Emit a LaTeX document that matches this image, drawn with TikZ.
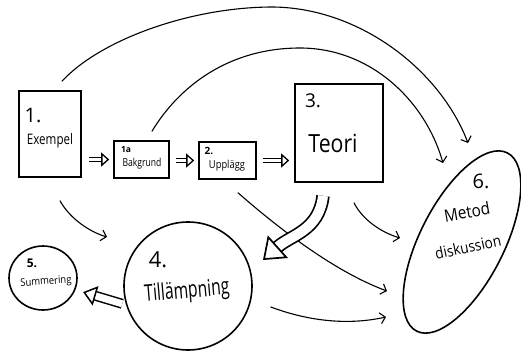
\documentclass[tikz,border=0pt]{standalone}
\usepackage{fontspec}
\setmainfont{Open Sans}
\usetikzlibrary{arrows.meta,shapes.geometric,calc}
\begin{document}
\begin{tikzpicture}[x=1pt,y=-1pt,
  box/.style={draw, line width=1.6pt, inner sep=0pt},
  lbl/.style={inner sep=0pt},
  thinarrow/.style={line width=1.1pt, line cap=round, -{Straight Barb[length=5pt,width=11pt,line width=1.1pt]}},
  dbl/.style={double, double distance=3pt, line width=1.3pt, -{Triangle[open,length=8pt,width=14pt,line width=1.3pt]}},
  fat/.style={double, double distance=7pt, line width=1.5pt, -{Triangle[open,length=13pt,width=20pt,line width=1.5pt]}},
  huge/.style={double, double distance=10pt, line width=1.7pt, -{Triangle[open,length=20pt,width=30pt,line width=1.7pt]}}
]
\useasboundingbox (0,0) rectangle (521,353);

% nodes
\node[box, minimum width=62pt, minimum height=86pt] (n1) at (50,134) {};
\node[box, minimum width=55pt, minimum height=37pt] (n1a) at (141.5,159.5) {};
\node[box, minimum width=57pt, minimum height=37pt] (n2) at (227.5,160.5) {};
\node[box, minimum width=88pt, minimum height=98pt] (n3) at (339,133) {};
\node[draw, circle, line width=1.6pt, minimum size=128pt, inner sep=0pt] (n4) at (188,286) {};
\node[draw, ellipse, line width=1.6pt, minimum width=68pt, minimum height=64pt, inner sep=0pt] (n5) at (43,278) {};
\node[draw, ellipse, line width=1.6pt, minimum width=200pt, minimum height=84pt, inner sep=0pt, rotate=63] (n6) at (462,242) {};

% labels
\node[lbl, font=\fontsize{20}{20}\selectfont] (t1) at (33,116) {1.};
\node[lbl, font=\fontsize{14.5}{14.5}\selectfont] (t1b) at (50,141) {\scalebox{0.8}[1]{Exempel}};
\node[lbl, font=\fontsize{8.5}{8.5}\selectfont\bfseries] (t1a) at (126,150) {1a};
\node[lbl, font=\fontsize{11}{11}\selectfont] (t1ab) at (142,164) {\scalebox{0.78}[1]{Bakgrund}};
\node[lbl, font=\fontsize{10}{10}\selectfont\bfseries] (t2) at (209,151) {2.};
\node[lbl, font=\fontsize{11}{11}\selectfont] (t2b) at (227,166) {\scalebox{0.85}[1]{Upplägg}};
\node[lbl, font=\fontsize{19}{19}\selectfont] (t3) at (313,101) {3.};
\node[lbl, font=\fontsize{25}{25}\selectfont] (t3b) at (333,143) {\scalebox{0.85}[1]{Teori}};
\node[lbl, font=\fontsize{22}{22}\selectfont] (t4) at (158,260) {4.};
\node[lbl, font=\fontsize{23}{23}\selectfont, rotate=5] (t4b) at (187,292) {\scalebox{0.68}[1]{Tillämpning}};
\node[lbl, font=\fontsize{12}{12}\selectfont\bfseries] (t5) at (32,263) {5.};
\node[lbl, font=\fontsize{10.5}{10.5}\selectfont, rotate=4] (t5b) at (46,282) {\scalebox{0.9}[1]{Summering}};
\node[lbl, font=\fontsize{20}{20}\selectfont] (t6) at (481,181) {6.};
\node[lbl, font=\fontsize{17}{17}\selectfont, rotate=10] (t6b) at (467,212) {\scalebox{0.9}[1]{Metod}};
\node[lbl, font=\fontsize{15.5}{15.5}\selectfont, rotate=12] (t6c) at (468,247) {\scalebox{0.88}[1]{diskussion}};

% thin curved arrows
\draw[thinarrow] ($(n1.north)+(12,-9)$) .. controls (100,40) and (190,7) .. (273,7)
   .. controls (360,8) and (440,70) .. ($(n6.center)+(6,-99)$);
\draw[thinarrow] ($(n1a.north)+(10.5,-9)$) .. controls (180,85) and (230,48) .. (300,48)
   .. controls (370,48) and (425,100) .. ($(n6.center)+(-19,-79)$);
\draw[thinarrow] ($(n1.south)+(10,23)$) .. controls +(10,18) and +(-17,-5) .. ($(n4.center)+(-81,-49)$);
\draw[thinarrow] ($(n3.south)+(15,20)$) .. controls +(8,16) and +(-20,-6) .. ($(n6.center)+(-62,-4)$);
\draw[thinarrow] ($(n2.south)+(10.5,13)$) .. controls +(32,28) and +(-57,-21) .. ($(n6.center)+(-75,49)$);
\draw[thinarrow] ($(n4.east)+(18,21)$) .. controls +(40,15) and +(-36,8) .. ($(n6.center)+(-76,75)$);

% double arrows
\draw[dbl, shorten <=7pt, shorten >=4pt] (n1.east |- n1a.west) -- (n1a.west);
\draw[dbl, shorten <=6pt, shorten >=4pt] (n1a.east |- n2.west) -- (n2.west);
\draw[dbl, shorten <=6pt, shorten >=5pt] (n2.east) -- (n3.west |- n2.east);
\draw[fat, shorten <=4pt, shorten >=8pt] (n4.197) -- (n5.-20);
\draw[huge] ($(n3.south)+(-16,13)$) .. controls +(-4,35) and +(28,-25) .. ($(n4.center)+(75,-26)$);
\end{tikzpicture}
\end{document}
